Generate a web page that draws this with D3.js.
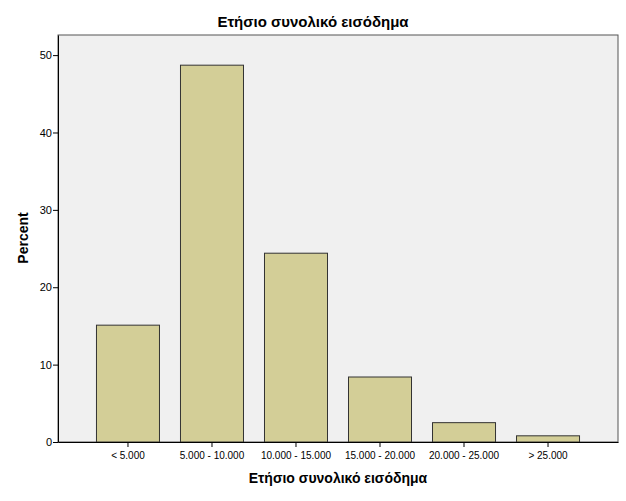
<!DOCTYPE html>
<html><head><meta charset="utf-8">
<script src="https://cdn.jsdelivr.net/npm/d3@7"></script>
<style>body{margin:0;background:#fff;}svg{display:block;}</style>
</head><body>
<script>
const categories = ["< 5.000", "5.000 - 10.000", "10.000 - 15.000", "15.000 - 20.000", "20.000 - 25.000", "> 25.000"];
const percents = [15.1, 48.7, 24.4, 8.4, 2.5, 0.8];
const yTicks = [0, 10, 20, 30, 40, 50];
const title = "Ετήσιο συνολικό εισόδημα";
const xTitle = "Ετήσιο συνολικό εισόδημα";
const yTitle = "Percent";

const W = 626, H = 501;
const m = {left: 58, right: 8, top: 35, bottom: 59};
const svg = d3.select("body").append("svg").attr("width", W).attr("height", H);
const x = d3.scaleBand().domain(categories).range([m.left, W - m.right]).paddingInner(0.25).paddingOuter(0.458);
const y = d3.scaleLinear().domain([0, 52.6]).range([H - m.bottom, m.top]);

svg.append("rect").attr("x", m.left).attr("y", m.top)
  .attr("width", W - m.left - m.right).attr("height", H - m.top - m.bottom)
  .attr("fill", "#f0f0f0").attr("stroke", "#555").attr("stroke-width", 1);

svg.selectAll("rect.bar").data(percents).enter().append("rect").attr("class", "bar")
  .attr("x", (d, i) => x(categories[i]))
  .attr("y", d => y(d))
  .attr("width", x.bandwidth())
  .attr("height", d => y(0) - y(d))
  .attr("fill", "#d3ce97").attr("stroke", "#333").attr("stroke-width", 1);

const yAxis = svg.append("g").attr("transform", `translate(${m.left},0)`)
  .call(d3.axisLeft(y).tickValues(yTicks).tickSize(5).tickSizeOuter(0));
yAxis.select(".domain").attr("stroke", "#000");
yAxis.selectAll("text").attr("font-family", "Liberation Sans, Arial, sans-serif").attr("font-size", 11).attr("fill", "#000").attr("dx", 2);

const xAxis = svg.append("g").attr("transform", `translate(0,${H - m.bottom})`)
  .call(d3.axisBottom(x).tickSize(5).tickSizeOuter(0));
xAxis.select(".domain").attr("stroke", "#000");
xAxis.selectAll("text").attr("font-family", "Liberation Sans, Arial, sans-serif").attr("font-size", 10).attr("fill", "#000").attr("dy", "0.9em");

svg.append("text").attr("x", 313).attr("y", 27).attr("text-anchor", "middle")
  .attr("font-family", "Liberation Sans, Arial, sans-serif").attr("font-size", 15).attr("font-weight", "bold").text(title);
svg.append("text").attr("x", 338).attr("y", 483).attr("text-anchor", "middle")
  .attr("font-family", "Liberation Sans, Arial, sans-serif").attr("font-size", 14).attr("font-weight", "bold").text(xTitle);
svg.append("text").attr("transform", "translate(28,238) rotate(-90)").attr("text-anchor", "middle")
  .attr("font-family", "Liberation Sans, Arial, sans-serif").attr("font-size", 14).attr("font-weight", "bold").text(yTitle);
</script>
</body></html>
